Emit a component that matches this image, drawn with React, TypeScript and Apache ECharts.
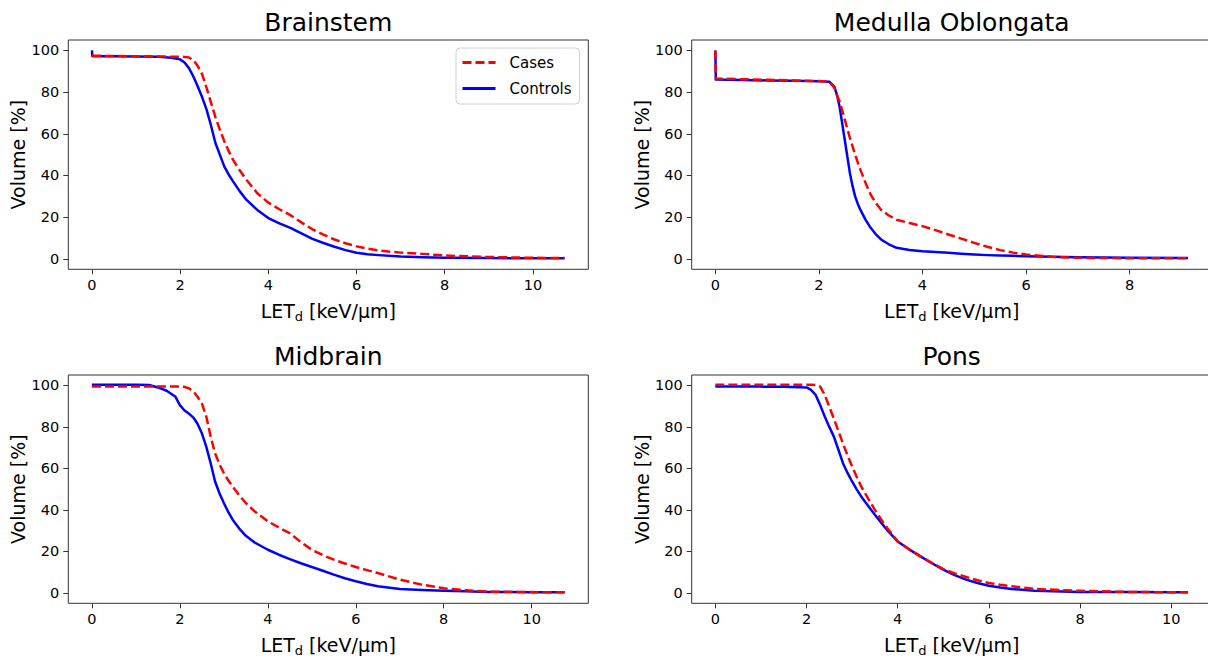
import React, { useEffect, useRef } from "react";
import * as echarts from "echarts";

const FONT = "DejaVu Sans";

const titles = ["Brainstem", "Medulla Oblongata", "Midbrain", "Pons"];
const seriesNames = ["Cases", "Controls"];
const xTickValues = [0, 2, 4, 6, 8, 10];
const yTickValues = [0, 20, 40, 60, 80, 100];

// Brainstem
const brainstemX = [0, 0.01, 0.5, 1.0, 1.5, 1.8, 2.0, 2.1, 2.2, 2.3, 2.4, 2.5, 2.6, 2.7, 2.8, 2.9, 3.0, 3.1, 3.2, 3.35, 3.5, 3.75, 4.0, 4.25, 4.5, 4.75, 5.0, 5.25, 5.5, 5.75, 6.0, 6.25, 6.5, 7.0, 7.5, 8.0, 9.0, 10.0, 10.72];
const brainstemCases = [97.5, 97.4, 97.3, 97.2, 97.1, 97.0, 97.0, 96.9, 96.6, 95.3, 92.5, 88.5, 82, 75, 68, 62, 56.5, 51.8, 47.5, 42.5, 38, 31.5, 27, 23.8, 21, 17.5, 14.2, 11.6, 9.3, 7.5, 6, 4.9, 4, 3, 2.4, 1.6, 0.9, 0.5, 0.4];
const brainstemControls = [100, 97.2, 97.2, 97.1, 97.0, 96.5, 95.7, 94.2, 91.5, 87.5, 82.7, 77.5, 71.6, 64, 55.6, 50, 44.4, 40.5, 37.2, 32.5, 28.4, 23.5, 19.6, 17, 14.9, 12.2, 9.6, 7.6, 5.8, 4.2, 2.9, 2.2, 1.8, 1.1, 0.8, 0.6, 0.4, 0.3, 0.3];

// Medulla Oblongata
const medullaX = [0, 0.01, 0.5, 1.0, 1.5, 2.0, 2.2, 2.3, 2.35, 2.4, 2.45, 2.5, 2.55, 2.6, 2.65, 2.7, 2.75, 2.8, 2.9, 3.0, 3.1, 3.2, 3.35, 3.5, 3.75, 4.0, 4.25, 4.5, 4.75, 5.0, 5.25, 5.5, 5.75, 6.0, 6.5, 7.0, 8.0, 9.13];
const medullaCases = [100, 86.5, 86.2, 85.9, 85.6, 85.3, 85.0, 82, 78.5, 75.5, 71.3, 66.8, 62.3, 58, 54, 50, 46.3, 42.8, 36.5, 30.8, 26.8, 23.6, 20.8, 18.8, 17.2, 15.7, 13.8, 11.7, 9.7, 7.7, 5.8, 4.2, 3.0, 2.1, 1.0, 0.5, 0.3, 0.3];
const medullaControls = [100, 86, 85.8, 85.6, 85.4, 85.2, 85.0, 82.5, 78.5, 73, 65, 57, 49, 41, 35, 30, 26.5, 23.6, 18.8, 14.9, 11.8, 9.3, 7, 5.3, 4.3, 3.7, 3.3, 2.9, 2.5, 2.1, 1.8, 1.6, 1.45, 1.3, 1.0, 0.8, 0.5, 0.4];

// Midbrain
const midbrainX = [0, 0.5, 1.0, 1.3, 1.5, 1.7, 1.9, 2.0, 2.1, 2.2, 2.3, 2.35, 2.4, 2.5, 2.6, 2.7, 2.8, 2.9, 3.0, 3.1, 3.2, 3.35, 3.5, 3.7, 4.0, 4.25, 4.5, 4.75, 5.0, 5.25, 5.5, 5.75, 6.0, 6.25, 6.5, 7.0, 7.5, 8.0, 8.5, 9.0, 10.0, 10.75];
const midbrainCases = [99.5, 99.5, 99.5, 99.5, 99.5, 99.4, 99.4, 99.4, 99.3, 98.6, 97.3, 96, 94.5, 91.3, 85, 75.3, 67.3, 62, 57.7, 54.3, 51.3, 47, 43.3, 39.3, 34.5, 31.5, 28.8, 24.5, 20.8, 18.2, 16, 14.2, 12.5, 11, 9.6, 6.4, 4, 2.2, 1.3, 0.6, 0.4, 0.3];
const midbrainControls = [100.3, 100.3, 100.3, 100.2, 99, 97.4, 94.5, 90.5, 88, 86.5, 84.6, 83.2, 81.5, 76.9, 70.5, 62.5, 53.7, 48, 43.3, 39, 35.3, 31, 27.5, 24.3, 20.8, 18.4, 16.3, 14.3, 12.5, 10.7, 8.8, 7.1, 5.6, 4.3, 3.2, 1.9, 1.4, 1.1, 0.8, 0.5, 0.3, 0.3];

// Pons
const ponsX = [0, 0.5, 1.0, 1.5, 2.0, 2.1, 2.2, 2.3, 2.4, 2.5, 2.6, 2.7, 2.8, 2.9, 3.0, 3.1, 3.2, 3.35, 3.5, 3.65, 3.8, 4.0, 4.25, 4.5, 4.75, 5.0, 5.25, 5.5, 5.75, 6.0, 6.25, 6.5, 7.0, 8.0, 9.0, 10.0, 10.37];
const ponsCases = [100.3, 100.3, 100.3, 100.3, 100.3, 100.3, 100.2, 99.4, 95.4, 89.7, 84, 78, 72, 66.3, 61, 56, 51.3, 45.5, 40, 35, 30.4, 24.8, 21, 17.6, 14.5, 11.5, 9.4, 7.7, 6.1, 4.8, 3.9, 3.2, 1.9, 1.0, 0.5, 0.3, 0.3];
const ponsControls = [99.5, 99.5, 99.4, 99.3, 99, 97.8, 95.4, 90.5, 85, 80, 75.3, 69, 62.5, 57.8, 53.7, 49.9, 46.5, 42, 37.7, 33.5, 29.5, 24.8, 21, 17.6, 14.3, 11.2, 8.6, 6.4, 4.8, 3.5, 2.6, 1.9, 1.1, 0.5, 0.4, 0.3, 0.3];

const panels = [
  { x: brainstemX, cases: brainstemCases, controls: brainstemControls },
  { x: medullaX, cases: medullaCases, controls: medullaControls },
  { x: midbrainX, cases: midbrainCases, controls: midbrainControls },
  { x: ponsX, cases: ponsCases, controls: ponsControls },
];

const gridBoxes = [
  { left: 68.3, top: 40, width: 520, height: 229.3 },
  { left: 691.7, top: 40, width: 520, height: 229.3 },
  { left: 68.3, top: 375, width: 520, height: 228.3 },
  { left: 691.7, top: 375, width: 520, height: 228.3 },
];
const titleY = [22.7, 22.7, 356.7, 356.7];

export default function App() {
  const ref = useRef<HTMLDivElement>(null);
  useEffect(() => {
    if (!ref.current) return;
    const chart = echarts.init(ref.current, null, { renderer: "svg" });

    const grid = gridBoxes.map((g) => ({
      ...g,
      show: true,
      borderColor: "#333",
      borderWidth: 1,
      backgroundColor: "transparent",
      containLabel: false,
      outerBoundsMode: "none",
    }));

    const xAxis = panels.map((p, i) => {
      const dmax = p.x[p.x.length - 1];
      const ticks = xTickValues.filter((v) => v <= dmax);
      return {
        type: "value",
        gridIndex: i,
        position: "bottom",
        min: -0.05 * dmax,
        max: 1.05 * dmax,
        splitLine: { show: false },
        axisLine: { show: false, onZero: false },
        axisTick: {
          show: true,
          inside: false,
          length: 5,
          lineStyle: { color: "#333", width: 1 },
          customValues: ticks,
        },
        axisLabel: {
          show: true,
          margin: 8,
          fontSize: 14.5,
          fontFamily: FONT,
          color: "#000",
          customValues: ticks,
        },
        name: "{a|LET}{s|d}{a| [keV/μm]}",
        nameLocation: "middle",
        nameGap: 30,
        nameTextStyle: {
          fontSize: 19,
          fontFamily: FONT,
          color: "#000",
          rich: {
            a: { fontSize: 19, fontFamily: FONT, color: "#000", lineHeight: 24 },
            s: { fontSize: 13, fontFamily: FONT, color: "#000", lineHeight: 13, verticalAlign: "bottom" },
          },
        },
      };
    });

    const yAxis = panels.map((_, i) => ({
      type: "value",
      gridIndex: i,
      position: "left",
      min: -5,
      max: 105,
      splitLine: { show: false },
      axisLine: { show: false, onZero: false },
      axisTick: {
        show: true,
        inside: false,
        length: 5,
        lineStyle: { color: "#333", width: 1 },
        customValues: yTickValues,
      },
      axisLabel: {
        show: true,
        margin: 9,
        fontSize: 14.5,
        fontFamily: FONT,
        color: "#000",
        customValues: yTickValues,
      },
      name: "Volume [%]",
      nameLocation: "middle",
      nameGap: 39,
      nameTextStyle: { fontSize: 19, fontFamily: FONT, color: "#000" },
    }));

    const series: any[] = [];
    panels.forEach((p, i) => {
      series.push({
        name: "Controls",
        type: "line",
        xAxisIndex: i,
        yAxisIndex: i,
        data: p.x.map((x, k) => [x, p.controls[k]]),
        showSymbol: false,
        symbol: "none",
        smooth: false,
        lineStyle: { color: "#0000ff", width: 2.5, type: "solid", join: "round" },
        itemStyle: { color: "#0000ff" },
        z: 2,
      });
      series.push({
        name: "Cases",
        type: "line",
        xAxisIndex: i,
        yAxisIndex: i,
        data: p.x.map((x, k) => [x, p.cases[k]]),
        showSymbol: false,
        symbol: "none",
        smooth: false,
        lineStyle: { color: "#ff0000", width: 2.5, type: [9, 4], join: "round" },
        itemStyle: { color: "#ff0000" },
        z: 3,
      });
    });

    const graphic = titles.map((t, i) => ({
      type: "text",
      x: gridBoxes[i].left + gridBoxes[i].width / 2,
      y: titleY[i],
      style: {
        text: t,
        fontSize: 25,
        fontFamily: FONT,
        fill: "#000",
        align: "center",
        verticalAlign: "middle",
        textAlign: "center",
        textVerticalAlign: "middle",
      },
    }));

    chart.setOption({
      animation: false,
      backgroundColor: "#fff",
      grid,
      xAxis,
      yAxis,
      series,
      graphic,
      legend: {
        data: seriesNames,
        orient: "vertical",
        left: 456,
        top: 48,
        padding: [7, 8, 8, 5],
        itemWidth: 33,
        itemHeight: 14,
        itemGap: 11,
        backgroundColor: "#fff",
        borderColor: "#d0d0d0",
        borderWidth: 1,
        borderRadius: 4,
        selectedMode: false,
        itemStyle: { opacity: 0, borderWidth: 0 },
        lineStyle: { width: 3 },
        textStyle: { fontSize: 15, fontFamily: FONT, color: "#000", padding: [0, 0, 0, 9] },
      },
    });
    return () => chart.dispose();
  }, []);
  return (
    <div
      ref={ref}
      style={{ position: "fixed", left: 0, top: 0, width: 1208, height: 660, background: "#fff" }}
    />
  );
}
